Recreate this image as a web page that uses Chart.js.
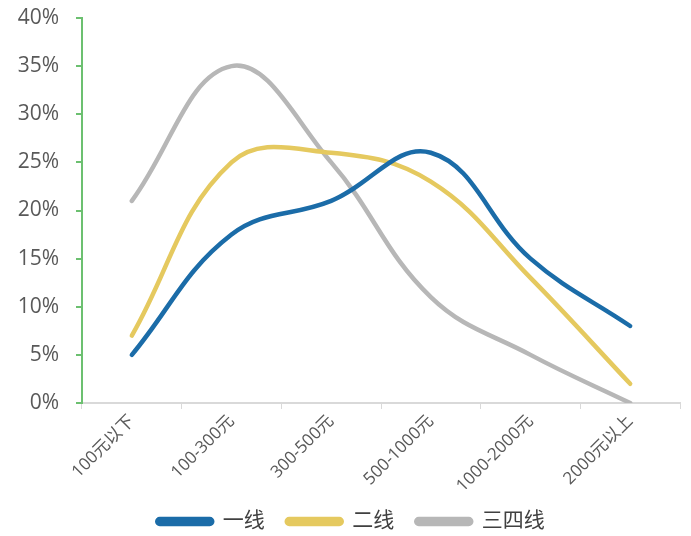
<!DOCTYPE html>
<html><head><meta charset="utf-8">
<script src="https://cdn.jsdelivr.net/npm/chart.js@4"></script>
<style>html,body{margin:0;padding:0;background:#fff}#wrap{width:691px;height:536px}</style>
</head><body><div id="wrap"><canvas id="c" width="691" height="536"></canvas></div>
<script>
const categories = ["100元以下", "100-300元", "300-500元", "500-1000元", "1000-2000元", "2000元以上"];
const tier1 = [5, 17.5, 21, 26, 15, 8];
const tier2 = [7, 25, 26, 23, 13, 2];
const tier34 = [21, 35, 25, 11, 5, 0];
const seriesNames = ["一线", "二线", "三四线"];
const yTicks = [0, 5, 10, 15, 20, 25, 30, 35, 40];

const FONT = '"Open Sans", "Noto Sans CJK SC", sans-serif';
const colors = ["#1b6ca8", "#e5c95f", "#b7b7b7"];
const mk = (label, data, col) => ({
  label, data, borderColor: col, backgroundColor: col, borderWidth: 4.5,
  pointRadius: 0, tension: 0.4, borderCapStyle: 'round', borderJoinStyle: 'round', fill: false
});
const shiftLegend = {
  id: 'shiftLegend',
  afterLayout(chart) { const l = chart.legend; if (l) { l.left += 11; l.right += 11; } }
};
new Chart(document.getElementById('c'), {
  type: 'line',
  data: { labels: categories, datasets: [mk(seriesNames[0], tier1, colors[0]), mk(seriesNames[1], tier2, colors[1]), mk(seriesNames[2], tier34, colors[2])] },
  plugins: [shiftLegend],
  options: {
    responsive: false, animation: false, devicePixelRatio: 1,
    layout: { padding: { top: 0, right: 11, left: 0, bottom: -6 } },
    plugins: {
      legend: { position: 'bottom', labels: { font: { family: FONT, size: 21 }, color: '#404040', boxWidth: 55, boxHeight: 5, useBorderRadius: true, borderRadius: 2.5, padding: 22 } },
      tooltip: { enabled: false }
    },
    scales: {
      x: {
        offset: true,
        afterFit: (s) => { s.height = 86; },
        grid: { display: true, drawOnChartArea: false, offset: true, color: '#d9d9d9', tickLength: 6, lineWidth: 1 },
        border: { color: '#d9d9d9', width: 2 },
        ticks: { font: { family: FONT, size: 17 }, color: '#595959', maxRotation: 45, minRotation: 45, padding: 2 }
      },
      y: {
        min: 0, max: 40,
        afterFit: (s) => { s.width = 82; s.paddingTop = 18; s.paddingBottom = 10; },
        afterBuildTicks: (s) => { s.ticks = yTicks.map(v => ({ value: v })); },
        grid: { display: true, drawOnChartArea: false, color: '#6cc070', tickLength: 6, lineWidth: 2 },
        border: { color: '#6cc070', width: 2 },
        ticks: { font: { family: FONT, size: 21 }, color: '#595959', padding: 17, callback: v => v + '%' }
      }
    }
  }
});
</script></body></html>
